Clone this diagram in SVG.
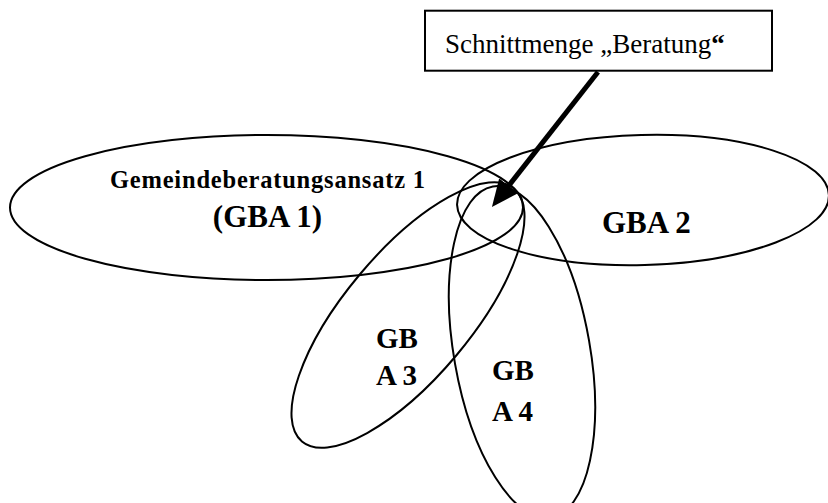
<svg xmlns="http://www.w3.org/2000/svg" width="828" height="503" viewBox="0 0 828 503">
<defs>
<style>
.sh{fill:none;stroke:#000;stroke-width:2}
.lb{font-family:"Liberation Serif","Times New Roman",serif;font-weight:bold;fill:#000}
.bx{font-family:"Liberation Serif","Times New Roman",serif;font-size:27px;fill:#000}
.ar{stroke:#000;stroke-width:5;fill:none}
</style>
<marker id="ah" markerUnits="userSpaceOnUse" markerWidth="27" markerHeight="24" refX="1" refY="12" orient="auto">
<path d="M0,0 L27,12 L0,24 Z" fill="#000"/>
</marker>
</defs>
<rect width="828" height="503" fill="#fff"/>
<g id="gba1">
<ellipse class="sh" cx="266.5" cy="207.5" rx="256.5" ry="72.5"/>
<text class="lb" x="267.5" y="188" font-size="24.5" text-anchor="middle" textLength="315" lengthAdjust="spacing">Gemeindeberatungsansatz 1</text>
<text class="lb" x="267.5" y="227" font-size="31" text-anchor="middle">(GBA 1)</text>
</g>
<g id="gba2">
<ellipse class="sh" cx="643" cy="200" rx="186" ry="65" transform="rotate(-1.5 643 200)"/>
<text class="lb" x="602" y="233" font-size="31">GBA 2</text>
</g>
<g id="gba3">
<ellipse class="sh" cx="408" cy="315" rx="165" ry="63" transform="rotate(-50 408 315)"/>
<text class="lb" x="376" y="348" font-size="29">GB</text>
<text class="lb" x="376" y="385" font-size="29">A 3</text>
</g>
<g id="gba4">
<ellipse class="sh" cx="522" cy="352" rx="68" ry="168" transform="rotate(-10 522 352)"/>
<text class="lb" x="492" y="380" font-size="29">GB</text>
<text class="lb" x="492" y="421" font-size="29">A 4</text>
</g>
<g id="schnittmenge">
<rect x="425" y="10.7" width="347" height="60" fill="#fff" stroke="#000" stroke-width="2"/>
<text class="bx" x="445" y="53">Schnittmenge „Beratung<tspan font-weight="bold">“</tspan></text>
</g>
<g id="connectors">
<line class="ar" x1="598" y1="72" x2="508" y2="186.6" marker-end="url(#ah)"/>
</g>
</svg>
